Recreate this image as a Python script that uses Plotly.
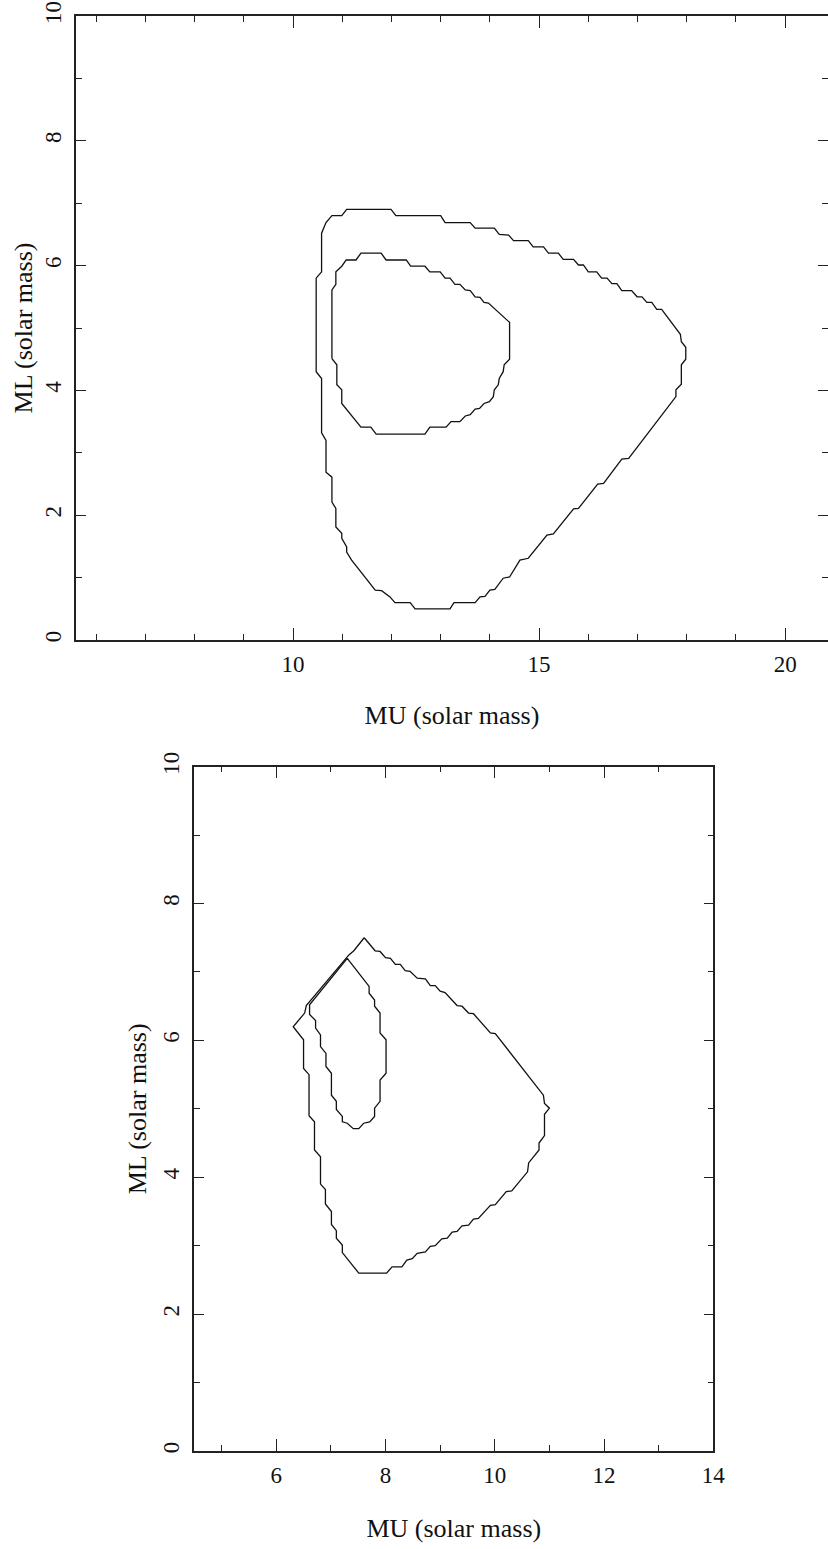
import plotly.graph_objects as go

# ---------------- data ----------------
# Top panel: outer contour
top_outer_mu = [10.47, 10.58, 10.58, 10.67, 10.79, 10.99, 11.09, 11.99, 12.09, 13.00, 13.09, 13.60, 13.70, 14.09,
                14.19, 14.38, 14.48, 14.78, 14.88, 15.09, 15.19, 15.39, 15.49, 15.70, 15.80, 15.90, 16.00, 16.17,
                16.27, 16.38, 16.48, 16.58, 16.68, 16.88, 16.99, 17.09, 17.19, 17.29, 17.39, 17.49, 17.87, 17.89,
                17.98, 17.98, 17.89, 17.89, 17.78, 17.78, 16.82, 16.68, 16.31, 16.19, 15.80, 15.70, 15.29, 15.16,
                14.78, 14.61, 14.40, 14.27, 14.10, 14.00, 13.90, 13.80, 13.70, 13.27, 13.19, 12.48, 12.38, 12.07,
                11.97, 11.80, 11.67, 11.19, 11.09, 11.09, 10.99, 10.99, 10.87, 10.87, 10.79, 10.79, 10.67, 10.67,
                10.58, 10.58, 10.47, 10.47]
top_outer_ml = [5.80, 5.90, 6.52, 6.69, 6.80, 6.80, 6.90, 6.90, 6.80, 6.80, 6.69, 6.69, 6.60, 6.60,
                6.50, 6.49, 6.40, 6.40, 6.30, 6.30, 6.20, 6.20, 6.10, 6.10, 6.01, 6.01, 5.90, 5.90,
                5.80, 5.80, 5.71, 5.71, 5.60, 5.60, 5.50, 5.50, 5.41, 5.41, 5.30, 5.30, 4.90, 4.78,
                4.69, 4.50, 4.41, 4.10, 4.01, 3.90, 2.91, 2.90, 2.51, 2.50, 2.11, 2.10, 1.70, 1.68,
                1.31, 1.28, 1.01, 0.99, 0.81, 0.80, 0.70, 0.69, 0.60, 0.60, 0.50, 0.50, 0.60, 0.60,
                0.69, 0.79, 0.80, 1.28, 1.41, 1.49, 1.63, 1.71, 1.81, 2.11, 2.21, 2.61, 2.69, 3.20,
                3.32, 4.19, 4.30, 5.80]

# Top panel: inner contour
top_inner_mu = [10.79, 10.79, 10.87, 10.87, 10.99, 11.08, 11.28, 11.38, 11.79, 11.89, 12.30, 12.39, 12.68, 12.78,
                12.99, 13.09, 13.19, 13.29, 13.39, 13.50, 13.60, 13.70, 13.80, 13.88, 13.97, 14.40, 14.40, 14.29,
                14.27, 14.19, 14.17, 14.09, 14.07, 13.99, 13.88, 13.79, 13.70, 13.60, 13.50, 13.39, 13.21, 13.11,
                12.78, 12.68, 11.69, 11.58, 11.38, 10.99, 10.99, 10.89, 10.89, 10.79]
top_inner_ml = [4.51, 5.61, 5.70, 5.90, 5.99, 6.09, 6.09, 6.20, 6.20, 6.09, 6.09, 5.99, 5.99, 5.90,
                5.90, 5.80, 5.80, 5.70, 5.70, 5.61, 5.60, 5.50, 5.49, 5.41, 5.40, 5.09, 4.50, 4.41,
                4.30, 4.19, 4.09, 4.01, 3.90, 3.82, 3.79, 3.71, 3.70, 3.61, 3.59, 3.50, 3.50, 3.41,
                3.41, 3.30, 3.30, 3.41, 3.41, 3.79, 4.01, 4.09, 4.41, 4.51]

# Bottom panel: outer contour
bot_outer_mu = [7.61, 7.81, 7.90, 8.00, 8.09, 8.18, 8.27, 8.36, 8.45, 8.58, 8.73, 8.82, 8.91, 9.00, 9.09, 9.31,
                9.40, 9.52, 9.61, 9.92, 10.01, 10.89, 10.91, 11.00, 10.91, 10.91, 10.81, 10.81, 10.62, 10.60,
                10.31, 10.21, 10.01, 9.92, 9.70, 9.61, 9.52, 9.40, 9.31, 9.22, 9.13, 9.03, 8.91, 8.82, 8.73,
                8.58, 8.49, 8.39, 8.30, 8.12, 8.02, 7.51, 7.21, 7.21, 7.10, 7.10, 7.01, 7.01, 6.90, 6.90,
                6.81, 6.81, 6.70, 6.70, 6.60, 6.60, 6.50, 6.50, 6.31, 6.52, 6.55, 7.33, 7.42, 7.61]
bot_outer_ml = [7.50, 7.31, 7.30, 7.21, 7.20, 7.11, 7.11, 7.02, 7.01, 6.91, 6.90, 6.80, 6.80, 6.72, 6.70, 6.51,
                6.50, 6.40, 6.39, 6.11, 6.10, 5.20, 5.08, 5.01, 4.92, 4.61, 4.50, 4.40, 4.21, 4.08,
                3.80, 3.79, 3.60, 3.59, 3.40, 3.39, 3.30, 3.29, 3.21, 3.20, 3.11, 3.10, 3.00, 2.99, 2.91,
                2.89, 2.81, 2.79, 2.69, 2.69, 2.60, 2.60, 2.90, 3.01, 3.11, 3.22, 3.31, 3.50, 3.61, 3.82,
                3.90, 4.30, 4.40, 4.81, 4.90, 5.50, 5.59, 6.01, 6.20, 6.40, 6.51, 7.25, 7.31, 7.50]

# Bottom panel: inner contour
bot_inner_mu = [7.30, 6.61, 6.61, 6.72, 6.72, 6.81, 6.81, 6.91, 6.91, 7.01, 7.01, 7.10, 7.10, 7.21, 7.21, 7.30,
                7.41, 7.51, 7.60, 7.71, 7.80, 7.80, 7.90, 7.90, 8.01, 8.01, 7.90, 7.90, 7.80, 7.80, 7.70,
                7.70, 7.30]
bot_inner_ml = [7.20, 6.52, 6.38, 6.29, 6.18, 6.08, 5.91, 5.81, 5.62, 5.52, 5.20, 5.11, 4.99, 4.89, 4.81, 4.79,
                4.71, 4.71, 4.79, 4.81, 4.89, 5.01, 5.11, 5.42, 5.52, 6.01, 6.11, 6.40, 6.50, 6.59, 6.69,
                6.79, 7.20]

x_title = "MU (solar mass)"
y_title = "ML (solar mass)"

# ---------------- figure ----------------
W, H = 828, 1549
FONT = "Liberation Serif"
LINE = "#111111"
AX = "#222222"

fig = go.Figure()
for xs, ys, xa, ya in [(top_outer_mu, top_outer_ml, "x", "y"),
                       (top_inner_mu, top_inner_ml, "x", "y"),
                       (bot_outer_mu, bot_outer_ml, "x2", "y2"),
                       (bot_inner_mu, bot_inner_ml, "x2", "y2")]:
    fig.add_trace(go.Scatter(x=xs, y=ys, xaxis=xa, yaxis=ya, mode="lines",
                             line=dict(color=LINE, width=1.3), showlegend=False,
                             hoverinfo="skip"))


def px_x(p):
    return p / W


def px_y(p):
    return 1 - p / H


MINOR = dict(ticks="inside", dtick=1, ticklen=6, tickcolor=AX, tickwidth=1.2)
common = dict(showgrid=False, zeroline=False, showline=True, linecolor=AX, linewidth=1.5,
              ticks="inside", tickcolor=AX, tickwidth=1.2, automargin=False,
              tickfont=dict(family=FONT, size=23, color="#111"),
              title_font=dict(family=FONT, size=26, color="#111"))

fig.update_layout(
    template="none",
    xaxis=dict(domain=[px_x(76), 1.0], range=[5.59, 20.87], anchor="y", mirror="ticks",
               tick0=0, dtick=5, ticklen=12, ticklabelstandoff=3, minor=MINOR,
               title=dict(text=x_title, standoff=29), **common),
    yaxis=dict(domain=[px_y(640), px_y(16)], range=[0, 10], anchor="x", mirror=False,
               tick0=0, dtick=2, ticklen=10, tickangle=-90, ticklabelstandoff=4, minor=MINOR,
               title=dict(text=y_title, standoff=1), **common),
    yaxis3=dict(overlaying="y", side="right", anchor="x", range=[0, 10], showgrid=False,
                zeroline=False, showline=False, showticklabels=False, ticks="inside",
                automargin=False, tick0=0, dtick=2, ticklen=10, tickcolor=AX, tickwidth=1.2,
                minor=MINOR),
    xaxis2=dict(domain=[px_x(194.3), px_x(713.3)], range=[4.5, 14], anchor="y2", mirror="ticks",
                tick0=0, dtick=2, ticklen=12, ticklabelstandoff=3, minor=MINOR,
                title=dict(text=x_title, standoff=31), **common),
    yaxis2=dict(domain=[px_y(1451), px_y(766.7)], range=[0, 10], anchor="x2", mirror="ticks",
                tick0=0, dtick=2, ticklen=10, tickangle=-90, ticklabelstandoff=4, minor=MINOR,
                title=dict(text=y_title, standoff=5), **common),
    width=W, height=H, margin=dict(l=0, r=0, t=0, b=0, pad=0, autoexpand=False),
    paper_bgcolor="white", plot_bgcolor="white", showlegend=False,
)

# invisible trace to activate the right-side tick axis of the top panel
fig.add_trace(go.Scatter(x=[None], y=[None], xaxis="x", yaxis="y3", showlegend=False, hoverinfo="skip"))

fig.write_html("out.html", config={"displayModeBar": False},
               post_script="document.body.style.margin='0px';")
